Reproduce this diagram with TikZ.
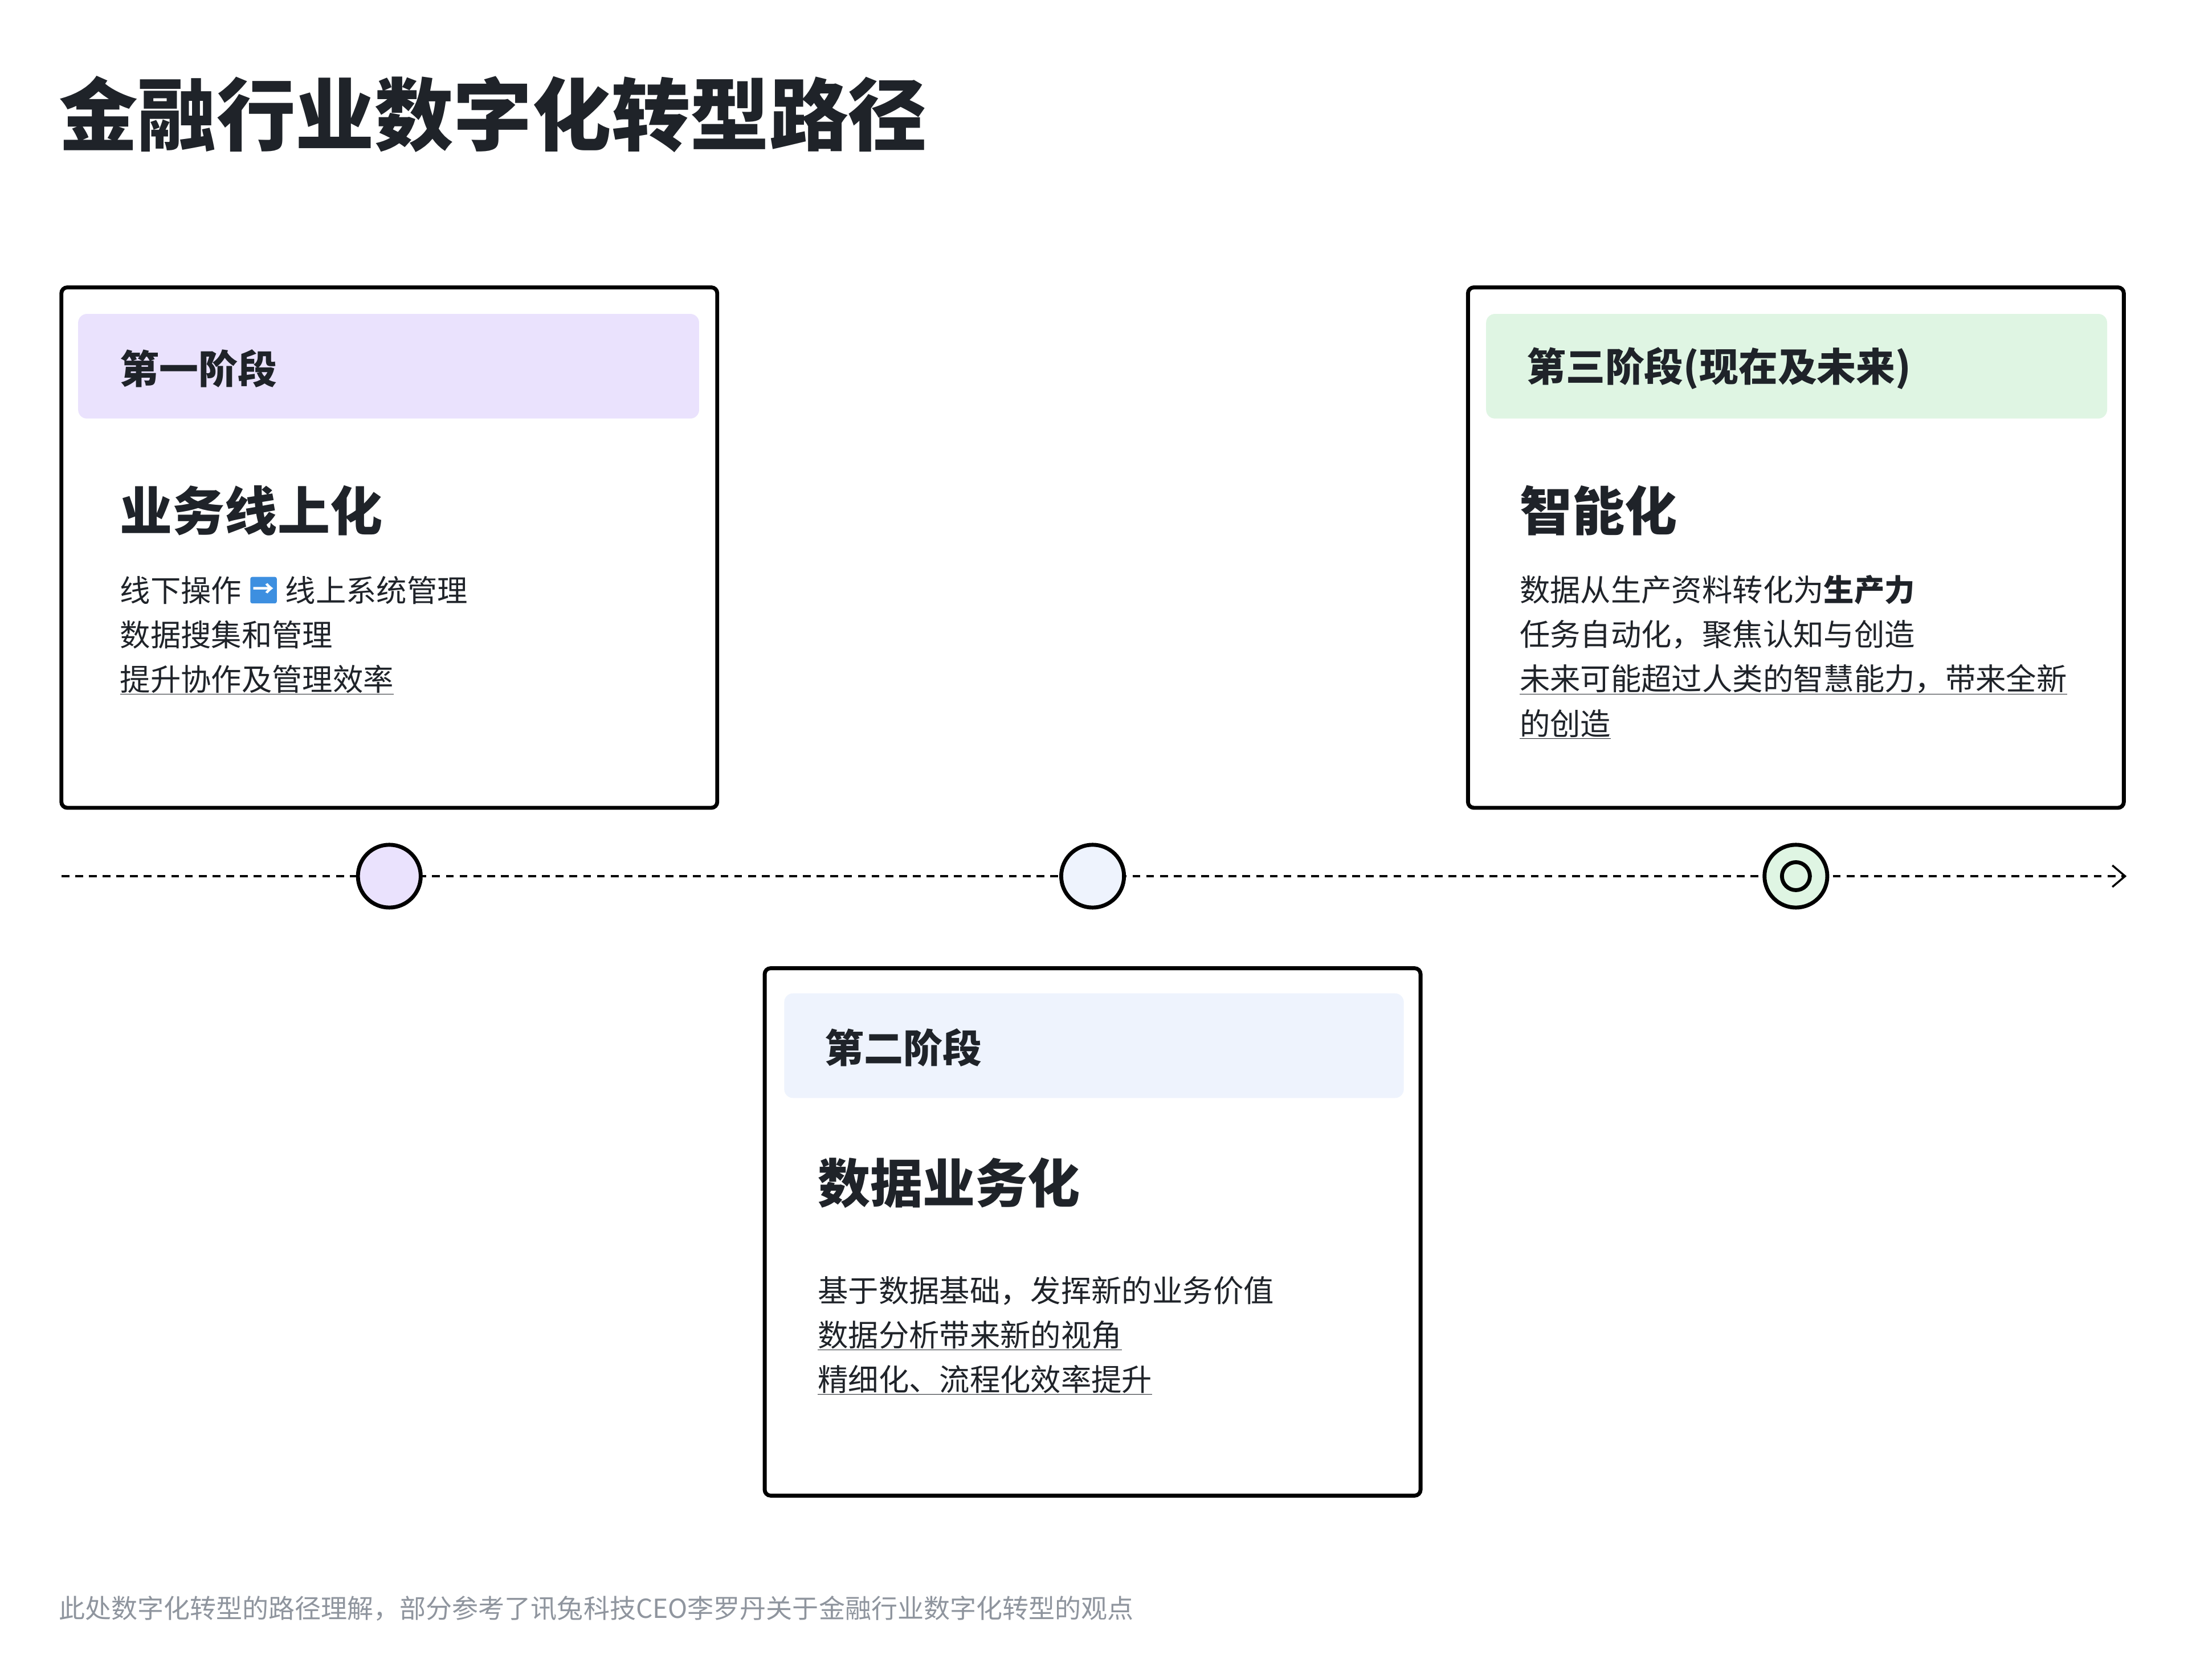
\documentclass[tikz,border=0pt]{standalone}
\usepackage{fontspec}
\setmainfont{Noto Sans CJK SC}
\newfontfamily\emojifont{Noto Emoji}
\usetikzlibrary{positioning,arrows.meta}
\definecolor{ink}{HTML}{1F2329}
\definecolor{lavender}{HTML}{EAE2FD}
\definecolor{paleblue}{HTML}{EEF3FD}
\definecolor{palegreen}{HTML}{DFF5E3}
\definecolor{note}{HTML}{8F959E}
\definecolor{emojiblue}{HTML}{3D8FE0}
\begin{document}
\begin{tikzpicture}[x=1mm,y=-1mm,
  card/.style={draw=black,line width=8pt,rounded corners=12pt,fill=white},
  band/.style={rounded corners=18pt},
  tag/.style={anchor=west,inner sep=0pt,text=ink,font=\fontsize{80}{96}\selectfont\bfseries},
  head/.style={anchor=west,inner sep=0pt,text=ink,font=\fontsize{107}{125}\selectfont\bfseries},
  body/.style={anchor=west,inner sep=0pt,text=ink,font=\fontsize{62}{76}\selectfont},
  dot/.style={draw=black,line width=8pt}]
\useasboundingbox (0,0) rectangle (1568,1204);
% title
\node[anchor=west,inner sep=0pt,text=ink,font=\fontsize{161}{184}\selectfont\bfseries] (title) at (42,82) {金融行业数字化转型路径};
% timeline
\coordinate (tlstart) at (44,628);
\coordinate (tlend) at (1524,628);
\draw[dashed,dash pattern=on 16pt off 12pt,line width=4pt,-{Straight Barb[length=26pt,width=44pt,line width=4pt]}] (tlstart) -- (tlend);
\node[dot,circle,fill=lavender,minimum size=45mm,inner sep=0pt] (m1) at (279,628) {};
\node[dot,circle,fill=paleblue,minimum size=45mm,inner sep=0pt] (m2) at (783,628) {};
\node[dot,circle,fill=palegreen,minimum size=45mm,inner sep=0pt] (m3) at (1287,628) {};
\draw[line width=8pt] (m3.center) circle[radius=10];
% stage one
\draw[card] (44,206) rectangle (514,579);
\fill[band,lavender] (56,225) rectangle (501,300);
\node[tag] (s1tag) at (86,264) {第一阶段};
\node[head] (s1head) at (86,366) {业务线上化};
\node[body] (s1a) at (86,423) {线下操作};
\node[right=6mm of s1a,fill=emojiblue,rounded corners=4pt,minimum size=19mm,inner sep=0pt,text=white,font=\fontsize{44}{44}\selectfont\bfseries] (s1arrow) {→};
\node[body,right=6mm of s1arrow] (s1b) {线上系统管理};
\node[body] (s1c) at (86,455) {数据搜集和管理};
\node[body] (s1d) at (86,487) {\underline{提升协作及管理效率}};
% stage two
\draw[card] (548,694) rectangle (1018,1072);
\fill[band,paleblue] (562,712) rectangle (1006,787);
\node[tag] (s2tag) at (591,751) {第二阶段};
\node[head] (s2head) at (586,848) {数据业务化};
\node[body] (s2a) at (586,925) {基于数据基础，发挥新的业务价值};
\node[body] (s2b) at (586,957) {\underline{数据分析带来新的视角}};
\node[body] (s2c) at (586,989) {\underline{精细化、流程化效率提升}};
% stage three
\draw[card] (1052,206) rectangle (1522,579);
\fill[band,palegreen] (1065,225) rectangle (1510,300);
\node[tag] (s3tag) at (1094,264) {第三阶段(现在及未来)};
\node[head] (s3head) at (1089,366) {智能化};
\node[body] (s3a) at (1089,423) {数据从生产资料转化为\textbf{生产力}};
\node[body] (s3b) at (1089,455) {任务自动化，聚焦认知与创造};
\node[body] (s3c) at (1089,487) {\underline{未来可能超过人类的智慧能力，带来全新}};
\node[body] (s3d) at (1089,519) {\underline{的创造}};
% footnote
\node[anchor=west,inner sep=0pt,text=note,font=\fontsize{53.5}{64}\selectfont] (foot) at (42,1153) {此处数字化转型的路径理解，部分参考了讯兔科技CEO李罗丹关于金融行业数字化转型的观点};
\end{tikzpicture}
\end{document}
